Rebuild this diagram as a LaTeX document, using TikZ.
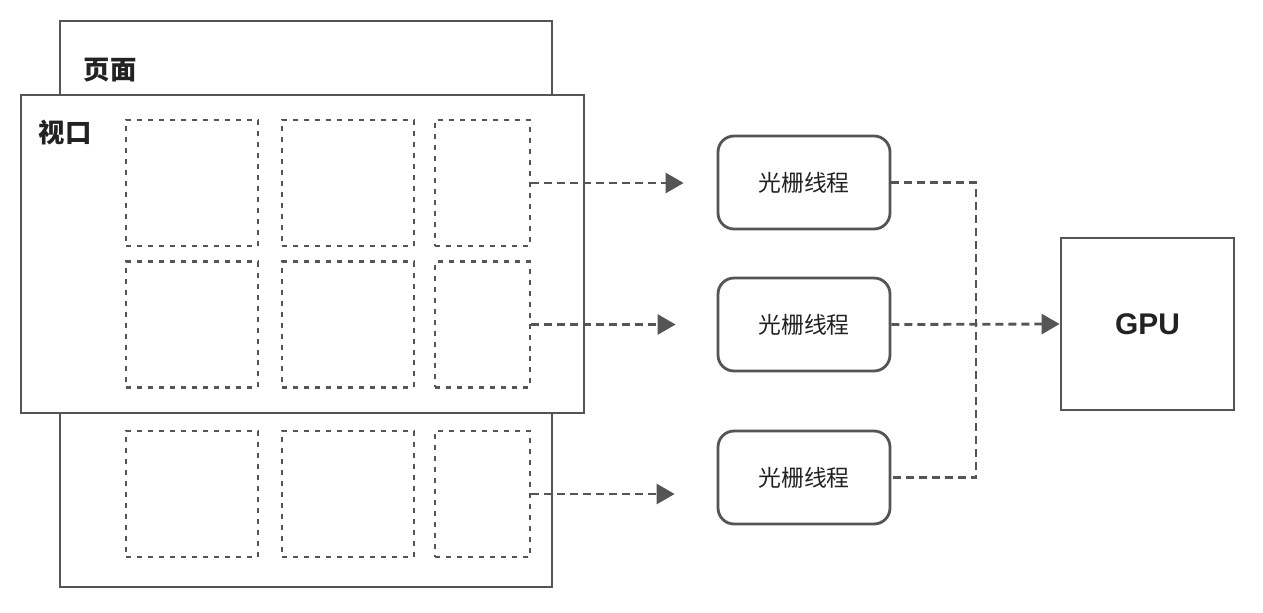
\documentclass[tikz,border=0pt]{standalone}
\usepackage{fontspec}
\usepackage{tikz}
\usetikzlibrary{arrows.meta,positioning,calc}
\newfontfamily\cjk{Noto Sans CJK SC}
\newfontfamily\latinsans{Liberation Sans}
\definecolor{linegrey}{RGB}{85,85,85}
\definecolor{textdark}{RGB}{34,34,34}

\begin{document}
\begin{tikzpicture}[x=0.02cm,y=-0.02cm,>=Latex,font=\cjk,
    frame/.style={draw=linegrey,line width=1.6pt,fill=white,inner sep=0pt},
    tile/.style={draw=linegrey,line width=1.5pt,dash pattern=on 0.1cm off 0.12cm,minimum height=2.52cm,inner sep=0pt},
    raster/.style={draw=linegrey,line width=1.6pt,rounded corners=0.32cm,minimum width=3.44cm,minimum height=1.86cm,font=\cjk\fontsize{13}{15}\selectfont,text=textdark},
    link/.style={draw=linegrey,line width=1.6pt,dash pattern=on 0.16cm off 0.1cm},
    tip/.style={-{Triangle[length=0.36cm,width=0.4cm]}}]
  \useasboundingbox (0,0) rectangle (1263,612);
  \fill[white] (0,0) rectangle (1263,612);
  % page and viewport
  \node[frame,minimum width=9.84cm,minimum height=11.32cm] (page) at (306,304) {};
  \node[font=\cjk\bfseries\fontsize{15}{18}\selectfont,text=textdark] (pagelbl) at (110,70) {页面};
  \node[frame,minimum width=11.26cm,minimum height=6.36cm] (view) at (302.5,254) {};
  \node[font=\cjk\bfseries\fontsize{15}{18}\selectfont,text=textdark] (viewlbl) at (65,133) {视口};
  % tiles
  \foreach \r/\y in {1/183,2/324.5,3/494} {
    \node[tile,minimum width=2.64cm] (t\r a) at (192,\y) {};
    \node[tile,minimum width=2.64cm] (t\r b) at (348,\y) {};
    \node[tile,minimum width=1.9cm] (t\r c) at (482.5,\y) {};
  }
  % raster threads and gpu
  \node[raster] (r1) at (804,182.5) {光栅线程};
  \node[raster] (r2) at (804,324.5) {光栅线程};
  \node[raster] (r3) at (804,477.5) {光栅线程};
  \node[draw=linegrey,line width=1.6pt,minimum width=3.46cm,minimum height=3.44cm,font=\latinsans\bfseries\fontsize{17}{20}\selectfont,text=textdark] (gpu) at (1147.5,324) {GPU};
  \coordinate (join) at (976,324.5);
  \draw[link,tip,shorten >=0.66cm] (t1c.east) -- (t1c.east -| r1.west);
  \draw[link,tip,shorten >=0.82cm] (t2c.east) -- (t2c.east -| r2.west);
  \draw[link,tip,shorten >=0.84cm] (t3c.east) -- (t3c.east -| r3.west);
  \draw[link] (r1.east) -| (join) |- (r3.east);
  \draw[link,tip] (r2.east) -- (gpu.west);
\end{tikzpicture}
\end{document}
